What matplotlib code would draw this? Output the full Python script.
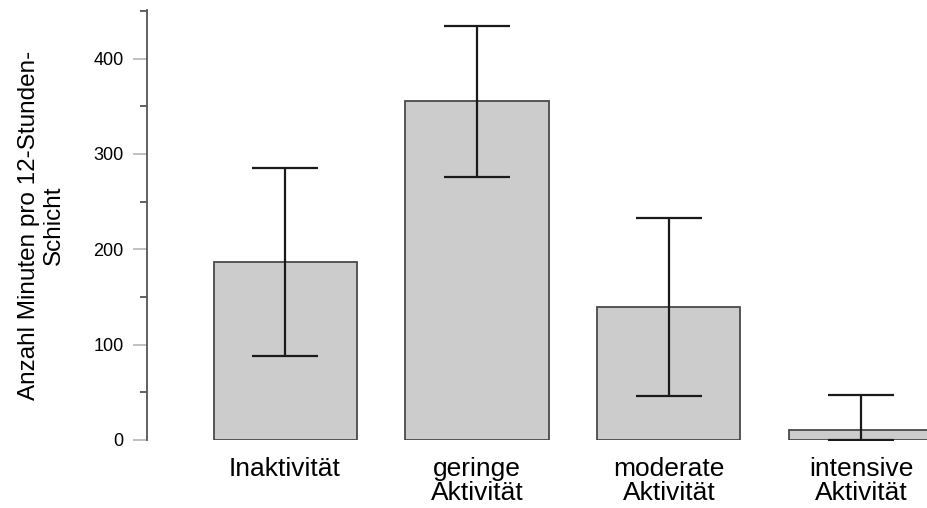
import numpy as np
import matplotlib.pyplot as plt

# Kategorien und Werte (Mittelwert, Fehlerbalken)
kategorien = ['Inaktivität', 'geringe\nAktivität', 'moderate\nAktivität', 'intensive\nAktivität']
mittelwerte = [187, 356, 140, 10]
fehler_oben = [98, 78, 93, 37]
fehler_unten = [99, 80, 94, 10]
y_ticks = [0, 100, 200, 300, 400]

plt.rcParams['font.family'] = ['Liberation Sans', 'DejaVu Sans']

fig = plt.figure(figsize=(9.27, 5.08), dpi=100)
# Achse reicht bis an den rechten Rand (letzter Balken wird abgeschnitten)
ax = fig.add_axes([147 / 927, (508 - 440) / 508, (927 - 147) / 927, 430 / 508])

x = np.arange(len(kategorien))
ax.bar(x, mittelwerte, width=0.745, color='#cccccc', edgecolor='#4a4a4a', linewidth=1.3, zorder=2)
ax.errorbar(x, mittelwerte, yerr=[fehler_unten, fehler_oben], fmt='none', ecolor='#1a1a1a',
            elinewidth=1.6, capsize=23.5, capthick=1.6, zorder=3)

ax.set_xlim(-0.719, 3.344)
ax.set_ylim(0, 451)

for s in ['top', 'right', 'bottom']:
    ax.spines[s].set_visible(False)
ax.spines['left'].set_color('#555555')
ax.spines['left'].set_linewidth(1.3)

ax.set_yticks(y_ticks)
ax.set_yticks([50, 150, 250, 350, 450], minor=True)
ax.tick_params(axis='y', which='major', length=10, width=1.3, color='#bbbbbb', labelsize=13, pad=7)
ax.tick_params(axis='y', which='minor', length=5, width=1.3, color='#555555')

ax.set_xticks(x)
ax.set_xticklabels(kategorien, fontsize=19, linespacing=1.0)
ax.tick_params(axis='x', length=0, pad=12)

ax.set_ylabel('Anzahl Minuten pro 12-Stunden-\nSchicht', fontsize=17.5, linespacing=1.2, labelpad=20)

fig.savefig('out.png', dpi=100)
